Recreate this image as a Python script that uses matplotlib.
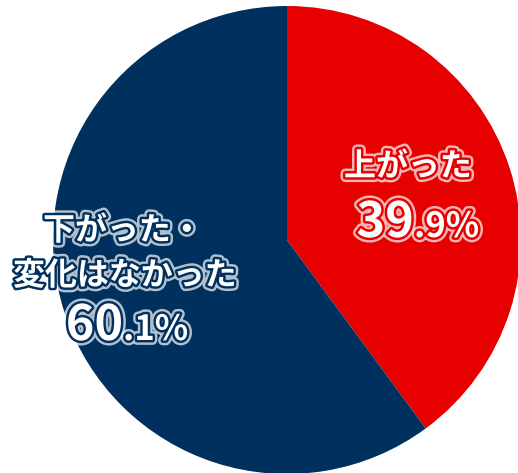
import matplotlib
matplotlib.use("Agg")
import matplotlib.pyplot as plt
import matplotlib.patheffects as pe

plt.rcParams['font.family'] = ['Noto Sans CJK JP', 'DejaVu Sans']

# data
labels = ['上がった', '下がった・\n変化はなかった']
values = [39.9, 60.1]
colors = ['#E60000', '#00305E']

fig = plt.figure(figsize=(5.18, 4.73), dpi=100)
ax = fig.add_axes([0, 0, 1, 1])
ax.set_xlim(0, 518)
ax.set_ylim(0, 473)
ax.axis('off')

ax.pie(values, colors=colors, startangle=90, counterclock=False,
       center=(287, 233), radius=234, frame=True,
       wedgeprops=dict(linewidth=0))
ax.set_xlim(0, 518)
ax.set_ylim(0, 473)
ax.axis('off')


def fx(col):
    return [pe.Stroke(linewidth=7, foreground='white', alpha=0.7),
            pe.Stroke(linewidth=3.5, foreground=col),
            pe.Normal()]


def pct(x, y, v, col):
    whole, dec = f"{v:.1f}".split('.')
    ax.text(x, y, whole, ha='right', va='baseline', fontsize=35,
            fontweight='bold', color='white', path_effects=fx(col))
    ax.text(x, y, '.' + dec + '%', ha='left', va='baseline', fontsize=25,
            fontweight='bold', color='white', path_effects=fx(col))


# red slice label
ax.text(408, 306, labels[0], ha='center', va='center', fontsize=23,
        fontweight='bold', color='white', path_effects=fx(colors[0]))
pct(414, 236, values[0], colors[0])

# navy slice label
top, bottom = labels[1].split('\n')
ax.text(123, 242, top, ha='center', va='center', fontsize=23,
        fontweight='bold', color='white', path_effects=fx(colors[1]))
ax.text(125, 197, bottom, ha='center', va='center', fontsize=23,
        fontweight='bold', color='white', path_effects=fx(colors[1]))
pct(123, 133, values[1], colors[1])

fig.savefig('out.png', dpi=100)
